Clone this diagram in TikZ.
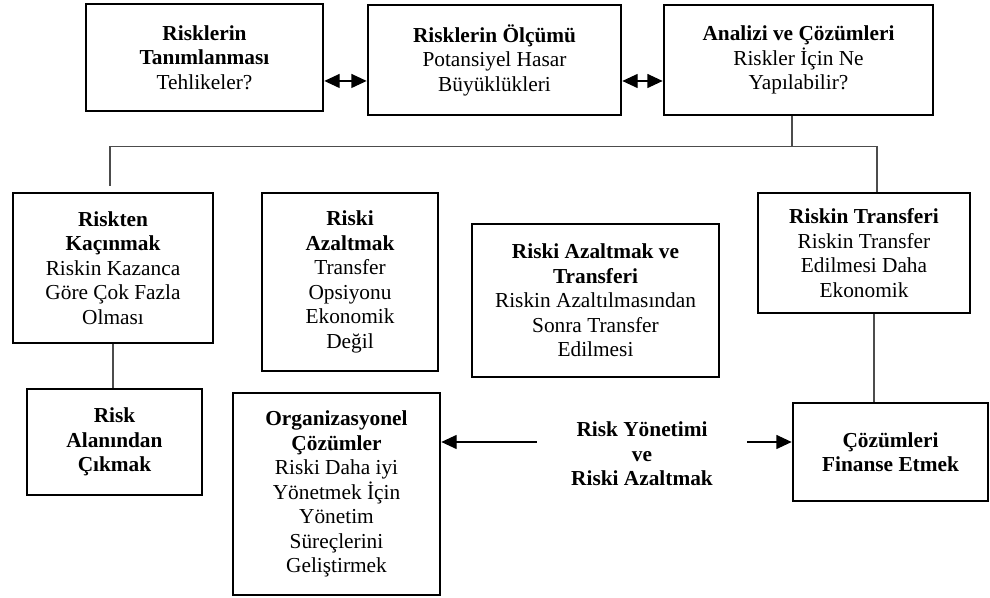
\documentclass[tikz,border=0pt]{standalone}
\usepackage{fontspec}
\setmainfont{Liberation Serif}
\usetikzlibrary{arrows.meta}

\begin{document}
\begin{tikzpicture}[
            x = 0.75pt, y = -0.75pt, % pixel grid, y going down
            > = {Triangle[length=11.5pt, width=10.5pt]}, % arrow head style
            font = \fontsize{16}{18.4}\selectfont
        ]

        \tikzstyle{box}=[
            draw = black,
            line width = 2pt,
            align = center,
            inner sep = 2pt
        ]
        \tikzstyle{link}=[draw = black!70, line width = 0.8pt]
        \tikzstyle{flow}=[->, draw = black, line width = 1pt]

        \useasboundingbox (0,0) rectangle (990,598);

	% top row
	\node[box, minimum width=177.75pt, minimum height=80.25pt] (tanim) at (204.5,57.5)
	    {\textbf{Risklerin}\\\textbf{Tanımlanması}\\Tehlikeler?};
	\node[box, minimum width=189.75pt, minimum height=82.5pt] (olcum) at (494.5,60)
	    {\textbf{Risklerin Ölçümü}\\Potansiyel Hasar\\Büyüklükleri};
	\node[box, minimum width=201.75pt, minimum height=82.5pt] (analiz) at (798.5,60)
	    {\textbf{Analizi ve Çözümleri}\\Riskler İçin Ne\\Yapılabilir?};

	% middle row
	\node[box, minimum width=150pt, minimum height=112.5pt] (kacin) at (113,268)
	    {\textbf{Riskten}\\\textbf{Kaçınmak}\\Riskin Kazanca\\Göre Çok Fazla\\Olması};
	\node[box, minimum width=132pt, minimum height=133.5pt] (azalt) at (350,282)
	    {\textbf{Riski}\\\textbf{Azaltmak}\\Transfer\\Opsiyonu\\Ekonomik\\Değil};
	\node[box, minimum width=185.25pt, minimum height=114.75pt] (azaltrans) at (595.5,300.5)
	    {\textbf{Riski Azaltmak ve}\\\textbf{Transferi}\\Riskin Azaltılmasından\\Sonra Transfer\\Edilmesi};
	\node[box, minimum width=159pt, minimum height=90pt] (transfer) at (864,253)
	    {\textbf{Riskin Transferi}\\Riskin Transfer\\Edilmesi Daha\\Ekonomik};

	% bottom row
	\node[box, minimum width=131.25pt, minimum height=79.5pt] (cikma) at (114.5,442)
	    {\textbf{Risk}\\\textbf{Alanından}\\\textbf{Çıkmak}};
	\node[box, minimum width=155.25pt, minimum height=151.5pt] (organ) at (336.5,494)
	    {\textbf{Organizasyonel}\\\textbf{Çözümler}\\Riski Daha iyi\\Yönetmek İçin\\Yönetim\\Süreçlerini\\Geliştirmek};
	\node[box, minimum width=146.25pt, minimum height=73.5pt] (finans) at (890.5,452)
	    {\textbf{Çözümleri}\\\textbf{Finanse Etmek}};
	\node[align=center, font=\fontsize{16}{18.4}\selectfont\bfseries, minimum width=157.5pt] (yonetim) at (642,454)
	    {Risk Yönetimi\\ve\\Riski Azaltmak};

	% branch lines
	\coordinate (busL) at (110,146.5);
	\coordinate (busR) at (877,146.5);
	\coordinate (legL) at (110,186);

        \draw[link] ([xshift=-4.9pt]analiz.south) -- ([xshift=-4.9pt]analiz.south |- busL);
        \draw[link] (busL) -- (busR);
        \draw[link] (busL) -- (legL);
        \draw[link] (busR) -- (busR |- transfer.north);
        \draw[link] (kacin.south) -- (kacin.south |- cikma.north);
        \draw[link] ([xshift=7.5pt]transfer.south) -- ([xshift=7.5pt]transfer.south |- finans.north);

        \draw[flow, <->] ([yshift=-17.6pt]tanim.east) -- ([yshift=-17.6pt]tanim.east -| olcum.west);
        \draw[flow, <->] ([yshift=-15.75pt]olcum.east) -- ([yshift=-15.75pt]olcum.east -| analiz.west);
        \draw[flow] ([yshift=9pt]yonetim.west) -- ([yshift=9pt]yonetim.west -| organ.east);
        \draw[flow] ([yshift=9pt]yonetim.east) -- ([yshift=9pt]yonetim.east -| finans.west);

    \end{tikzpicture}
\end{document}
